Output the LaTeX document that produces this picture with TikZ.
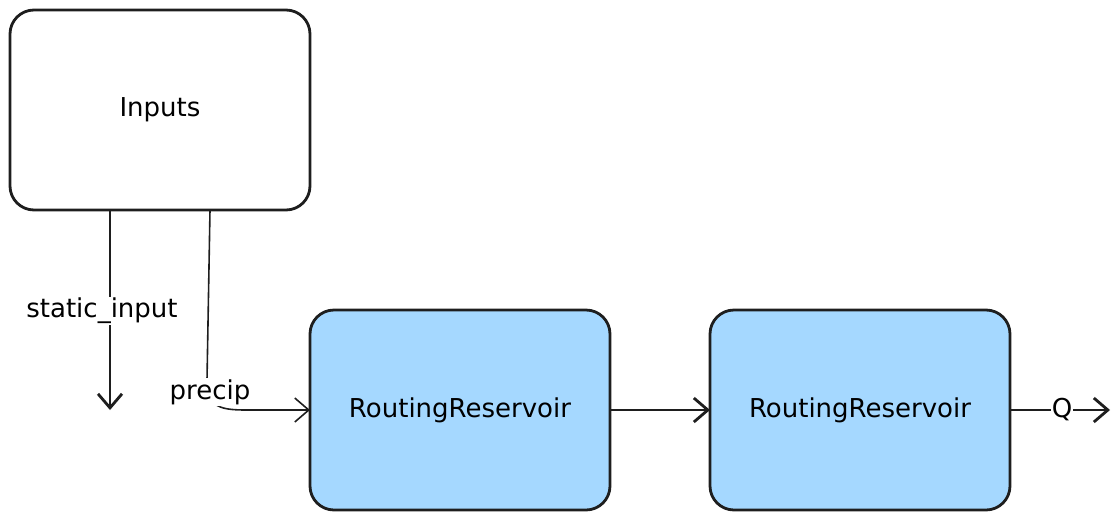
\documentclass[tikz,border=0pt]{standalone}
\usepackage{fontspec}
\setmainfont{DejaVu Sans}
\usetikzlibrary{arrows.meta, positioning}
\definecolor{reservoirblue}{HTML}{A5D8FF}
\definecolor{ink}{HTML}{1E1E1E}

\begin{document}
\begin{tikzpicture}[x=1pt,y=-1pt,>={Straight Barb[length=14pt,width=24pt]},
  line width=2.8pt,draw=ink,
  block/.style={draw=ink, rounded corners=24pt, minimum width=300pt,
    minimum height=200pt, outer sep=0pt, font=\fontsize{26}{30}\selectfont},
  reservoir/.style={block, fill=reservoirblue},
  flowtext/.style={fill=white, inner sep=1pt, font=\fontsize{26}{30}\selectfont}]
\useasboundingbox (0,0) rectangle (1119,520);

% define the blocks
  \node[block]     (inputs) at (160,110) {Inputs};
  \node[reservoir] (rr1) [below right=100pt and 0pt of inputs] {RoutingReservoir};
  \node[reservoir] (rr2) [right=100pt of rr1] {RoutingReservoir};

% define the loose ends
  \coordinate (staticend) at (110,410);
  \coordinate (qend) at (1110,410);

% define the links
  \draw[->] ([xshift=-50pt]inputs.south) -- (staticend);
  \draw[->, line width=1.6pt] ([xshift=50pt]inputs.south) -- (207,380)
        .. controls (207,412) and (225,410) .. (260,410) -- (rr1.west);
  \draw[->] (rr1.east) -- (rr2.west);
  \draw[->] (rr2.east) -- (qend);

% define the labels
  \node[flowtext] (staticlabel) at (102,311) {static\_input};
  \node[flowtext] (preciplabel) at (210,392) {precip};
  \node[flowtext] (qlabel) at (1062,410) {Q};

\end{tikzpicture}
\end{document}
